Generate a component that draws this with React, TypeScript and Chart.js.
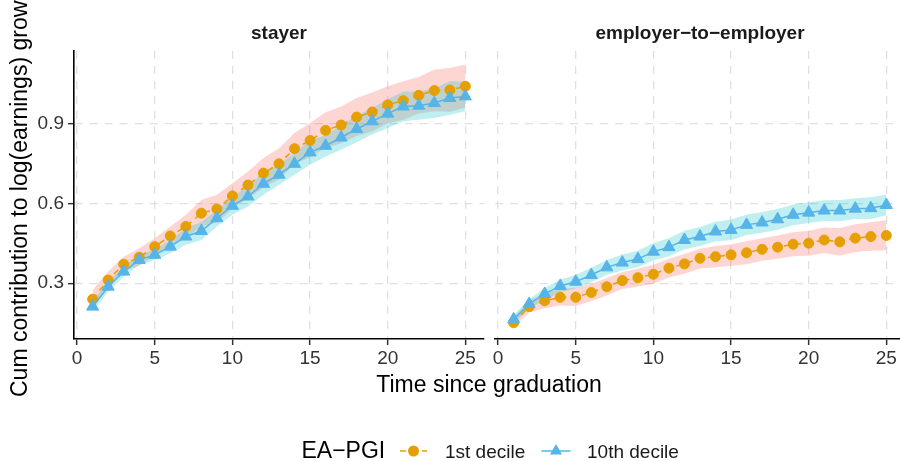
import React, { useEffect, useRef } from "react";
import { Chart, registerables } from "chart.js";

Chart.register(...registerables);

const years = [1, 2, 3, 4, 5, 6, 7, 8, 9, 10, 11, 12, 13, 14, 15, 16, 17, 18, 19, 20, 21, 22, 23, 24, 25];
const xTicks = [0, 5, 10, 15, 20, 25];
const yTicks = [0.3, 0.6, 0.9];
const panelTitles = ["stayer", "employer\u2212to\u2212employer"];
const seriesNames = ["1st decile", "10th decile"];
const legendTitle = "EA\u2212PGI";
const xTitle = "Time since graduation";
const yTitle = "Cum contribution to log(earnings) growth";

// stayer panel
const stayerD1 = [0.240, 0.312, 0.372, 0.398, 0.438, 0.478, 0.514, 0.564, 0.580, 0.629, 0.670, 0.715, 0.750, 0.807, 0.838, 0.876, 0.896, 0.926, 0.945, 0.972, 0.988, 1.008, 1.026, 1.028, 1.042];
const stayerD1Lo = [0.205, 0.282, 0.345, 0.366, 0.405, 0.443, 0.472, 0.515, 0.528, 0.582, 0.620, 0.660, 0.692, 0.749, 0.775, 0.810, 0.827, 0.855, 0.872, 0.903, 0.916, 0.940, 0.948, 0.946, 0.962];
const stayerD1Hi = [0.275, 0.344, 0.400, 0.432, 0.470, 0.514, 0.558, 0.614, 0.633, 0.677, 0.721, 0.772, 0.809, 0.866, 0.904, 0.944, 0.966, 0.998, 1.019, 1.042, 1.061, 1.077, 1.105, 1.111, 1.124];
const stayerD10 = [0.212, 0.287, 0.344, 0.388, 0.407, 0.438, 0.476, 0.497, 0.545, 0.592, 0.627, 0.675, 0.709, 0.750, 0.793, 0.818, 0.849, 0.881, 0.910, 0.939, 0.966, 0.969, 0.979, 0.998, 1.004];
const stayerD10Lo = [0.193, 0.268, 0.325, 0.369, 0.388, 0.413, 0.445, 0.463, 0.514, 0.558, 0.589, 0.633, 0.671, 0.709, 0.746, 0.778, 0.803, 0.831, 0.860, 0.885, 0.910, 0.916, 0.923, 0.935, 0.948];
const stayerD10Hi = [0.231, 0.306, 0.363, 0.407, 0.426, 0.463, 0.507, 0.531, 0.576, 0.626, 0.665, 0.717, 0.747, 0.791, 0.840, 0.858, 0.895, 0.931, 0.960, 0.993, 1.022, 1.022, 1.035, 1.061, 1.060];

// employer-to-employer panel
const e2eD1 = [0.151, 0.212, 0.234, 0.247, 0.247, 0.265, 0.287, 0.310, 0.321, 0.334, 0.357, 0.373, 0.394, 0.400, 0.407, 0.415, 0.428, 0.436, 0.447, 0.451, 0.463, 0.456, 0.470, 0.476, 0.480];
const e2eD1Lo = [0.133, 0.190, 0.206, 0.216, 0.214, 0.232, 0.254, 0.278, 0.288, 0.298, 0.322, 0.336, 0.356, 0.360, 0.366, 0.372, 0.385, 0.392, 0.402, 0.404, 0.414, 0.404, 0.418, 0.422, 0.424];
const e2eD1Hi = [0.172, 0.235, 0.262, 0.278, 0.283, 0.298, 0.320, 0.342, 0.356, 0.370, 0.392, 0.410, 0.430, 0.440, 0.447, 0.458, 0.470, 0.480, 0.492, 0.498, 0.510, 0.508, 0.522, 0.530, 0.537];
const e2eD10 = [0.164, 0.222, 0.260, 0.290, 0.306, 0.331, 0.360, 0.378, 0.391, 0.419, 0.436, 0.463, 0.476, 0.495, 0.501, 0.520, 0.529, 0.541, 0.558, 0.566, 0.574, 0.574, 0.581, 0.583, 0.595];
const e2eD10Lo = [0.148, 0.204, 0.238, 0.266, 0.280, 0.304, 0.332, 0.348, 0.360, 0.386, 0.402, 0.428, 0.440, 0.458, 0.462, 0.482, 0.490, 0.502, 0.519, 0.527, 0.535, 0.534, 0.542, 0.542, 0.556];
const e2eD10Hi = [0.180, 0.240, 0.282, 0.314, 0.332, 0.358, 0.388, 0.408, 0.422, 0.452, 0.470, 0.498, 0.512, 0.532, 0.540, 0.558, 0.568, 0.580, 0.597, 0.605, 0.613, 0.614, 0.620, 0.624, 0.634];

const FONT = "'Liberation Sans', Arial, Helvetica, sans-serif";
const ORANGE = "#E69F00";
const BLUE = "#56B4E9";
const PINK_FILL = "rgba(248,118,109,0.3)";
const CYAN_FILL = "rgba(0,191,196,0.25)";
const GRID = "#e0e0e0";
const TICK_TEXT = "#333333";
const CW = 920;
const CH = 461;

const pts = (arr: number[]) => arr.map((v, i) => ({ x: years[i], y: v }));

function buildDatasets(d1: number[], d1Lo: number[], d1Hi: number[], d10: number[], d10Lo: number[], d10Hi: number[]) {
  const band = { borderColor: "rgba(0,0,0,0)", borderWidth: 0, pointRadius: 0, tension: 0 };
  return [
    { ...band, label: "d1lo", data: pts(d1Lo), fill: false, order: 5 },
    { ...band, label: "d1hi", data: pts(d1Hi), fill: "-1", backgroundColor: PINK_FILL, order: 5 },
    { ...band, label: "d10lo", data: pts(d10Lo), fill: false, order: 4 },
    { ...band, label: "d10hi", data: pts(d10Hi), fill: "-1", backgroundColor: CYAN_FILL, order: 4 },
    {
      label: seriesNames[0], data: pts(d1), fill: false, order: 1, tension: 0,
      borderColor: ORANGE, borderWidth: 1.5, borderDash: [6, 5],
      pointStyle: "circle", pointRadius: 5, pointBorderWidth: 1,
      pointBackgroundColor: ORANGE, pointBorderColor: ORANGE,
    },
    {
      label: seriesNames[1], data: pts(d10), fill: false, order: 0, tension: 0,
      borderColor: BLUE, borderWidth: 1.5,
      pointStyle: "triangle", pointRadius: 7, pointBorderWidth: 1,
      pointBackgroundColor: BLUE, pointBorderColor: BLUE,
    },
  ];
}

const textPlugin = {
  id: "facetTexts",
  afterDraw(chart: any) {
    const ctx = chart.ctx as CanvasRenderingContext2D;
    ctx.save();
    ctx.textBaseline = "alphabetic";
    // strip titles
    ctx.fillStyle = "#1a1a1a";
    ctx.font = `bold 19px ${FONT}`;
    ctx.textAlign = "center";
    ctx.fillText(panelTitles[0], 279, 39);
    ctx.fillText(panelTitles[1], 700, 39);
    // x title
    ctx.fillStyle = "#000";
    ctx.font = `23px ${FONT}`;
    ctx.fillText(xTitle, 489, 392);
    // y title
    ctx.save();
    ctx.translate(26.5, 397);
    ctx.rotate(-Math.PI / 2);
    ctx.textAlign = "left";
    ctx.fillText(yTitle, 0, 0);
    ctx.restore();
    // legend
    ctx.textAlign = "left";
    ctx.font = `23px ${FONT}`;
    ctx.fillText(legendTitle, 301.5, 458);
    ctx.font = `19px ${FONT}`;
    ctx.fillStyle = "#1a1a1a";
    ctx.fillText(seriesNames[0], 445, 458);
    ctx.fillText(seriesNames[1], 587, 458);
    const ly = 451;
    // key 1
    ctx.strokeStyle = ORANGE;
    ctx.lineWidth = 1.5;
    ctx.setLineDash([6, 5]);
    ctx.beginPath();
    ctx.moveTo(400, ly);
    ctx.lineTo(427, ly);
    ctx.stroke();
    ctx.setLineDash([]);
    ctx.fillStyle = ORANGE;
    ctx.beginPath();
    ctx.arc(413.5, ly, 5.5, 0, Math.PI * 2);
    ctx.fill();
    // key 2
    ctx.strokeStyle = BLUE;
    ctx.beginPath();
    ctx.moveTo(541.5, ly);
    ctx.lineTo(570.5, ly);
    ctx.stroke();
    ctx.fillStyle = BLUE;
    const r = 7;
    const cx = 556;
    ctx.beginPath();
    ctx.moveTo(cx, ly - r);
    ctx.lineTo(cx + r * 0.866, ly + r / 2);
    ctx.lineTo(cx - r * 0.866, ly + r / 2);
    ctx.closePath();
    ctx.fill();
    ctx.restore();
  },
};

function makeOptions(isLeft: boolean): any {
  return {
    responsive: false,
    maintainAspectRatio: false,
    animation: false,
    devicePixelRatio: 1,
    events: [],
    layout: {
      padding: isLeft
        ? { left: 0, right: CW - 484, top: 51, bottom: 0 }
        : { left: 495, right: CW - 900, top: 51, bottom: 0 },
    },
    plugins: { legend: { display: false }, tooltip: { enabled: false }, title: { display: false } },
    scales: {
      x: {
        type: "linear",
        min: -0.2,
        max: isLeft ? 26.2 : 25.88,
        afterBuildTicks: (s: any) => {
          s.ticks = xTicks.map((v) => ({ value: v }));
        },
        afterFit: (s: any) => {
          s.height = 122;
        },
        ticks: {
          padding: 2,
          color: TICK_TEXT,
          font: { family: FONT, size: 19 },
          maxRotation: 0,
          autoSkip: false,
          callback: (v: any) => String(v),
        },
        grid: { color: GRID, lineWidth: 1.3, drawTicks: true, tickLength: 6, tickColor: "#333", tickWidth: 1.5 },
        border: { display: true, color: "#000", width: 1.6, dash: [8, 7] },
      },
      y: {
        type: "linear",
        min: 0.09,
        max: 1.175,
        afterBuildTicks: (s: any) => {
          s.ticks = yTicks.map((v) => ({ value: v }));
        },
        afterFit: (s: any) => {
          s.width = isLeft ? 74 : 0;
        },
        ticks: {
          display: isLeft,
          padding: 4,
          color: TICK_TEXT,
          font: { family: FONT, size: 19 },
          callback: (v: any) => Number(v).toFixed(1),
        },
        grid: { color: GRID, lineWidth: 1.3, drawTicks: isLeft, tickLength: 6, tickColor: "#333", tickWidth: 1.5 },
        border: { display: isLeft, color: "#000", width: 1.6, dash: [8, 7] },
      },
    },
  };
}

export default function App() {
  const leftRef = useRef<HTMLCanvasElement>(null);
  const rightRef = useRef<HTMLCanvasElement>(null);

  useEffect(() => {
    const left = new Chart(leftRef.current as HTMLCanvasElement, {
      type: "line",
      data: { datasets: buildDatasets(stayerD1, stayerD1Lo, stayerD1Hi, stayerD10, stayerD10Lo, stayerD10Hi) as any },
      options: makeOptions(true),
      plugins: [textPlugin],
    });
    const right = new Chart(rightRef.current as HTMLCanvasElement, {
      type: "line",
      data: { datasets: buildDatasets(e2eD1, e2eD1Lo, e2eD1Hi, e2eD10, e2eD10Lo, e2eD10Hi) as any },
      options: makeOptions(false),
    });
    return () => {
      left.destroy();
      right.destroy();
    };
  }, []);

  const cstyle: React.CSSProperties = { position: "absolute", left: 0, top: 0, width: CW, height: CH };
  return (
    <div style={{ position: "absolute", left: 0, top: 0, width: 900, height: 461, overflow: "hidden", background: "#fff" }}>
      <canvas ref={leftRef} width={CW} height={CH} style={cstyle} />
      <canvas ref={rightRef} width={CW} height={CH} style={cstyle} />
    </div>
  );
}
